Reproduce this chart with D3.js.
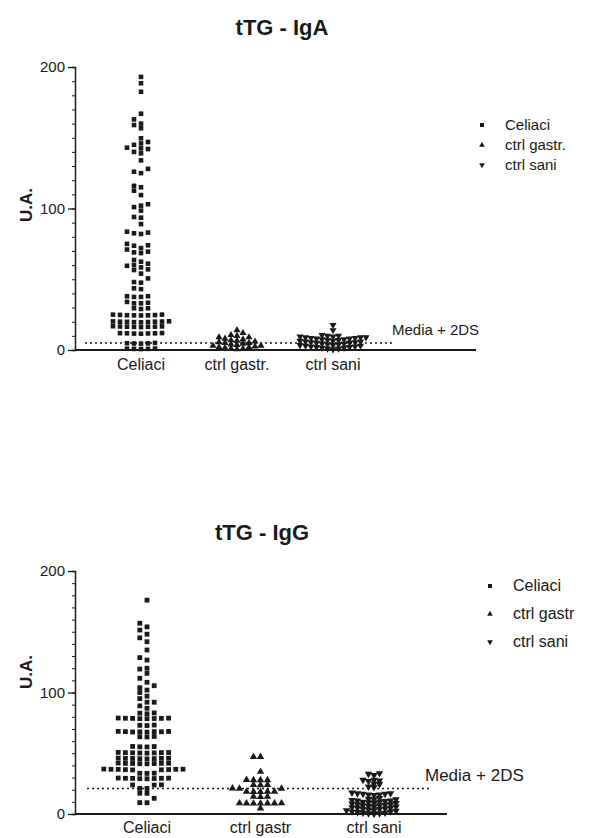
<!DOCTYPE html>
<html><head><meta charset="utf-8">
<script src="https://cdn.jsdelivr.net/npm/d3@7"></script>
<style>body{margin:0;background:#fff}svg{display:block;font-family:"Liberation Sans",Arial,sans-serif}</style>
</head><body><svg id="c" width="590" height="838"></svg>
<script>
// ---------- data ----------
const categoriesA = ["Celiaci", "ctrl gastr.", "ctrl sani"];
const categoriesG = ["Celiaci", "ctrl gastr", "ctrl sani"];
const legendA = ["Celiaci", "ctrl gastr.", "ctrl sani"];
const legendG = ["Celiaci", "ctrl gastr", "ctrl sani"];
const yTickLabels = [0, 100, 200];
const titles = ["tTG - IgA", "tTG - IgG"];
const yLabel = "U.A.";
const cutoffLabel = "Media + 2DS";
const cutoffA = 5;
const cutoffG = 21;

const igaCeliaci = [193, 188.5, 182.5, 167, 163, 160, 159, 156.7, 149.6, 147, 146, 145, 143, 142.5, 142, 140, 139, 134, 128, 126, 125, 116, 115, 112.6, 109.5, 103, 102, 101, 98.5, 94, 93.5, 89, 83.6, 83, 82.5, 82, 75, 74, 73.7, 72, 71, 69.5, 69, 68.5, 63.6, 62.4, 61, 60, 59.5, 58.4, 57, 56.5, 54, 50.6, 48, 47.6, 43.6, 43, 38, 38, 37.5, 37.5, 34, 33.4, 33, 33, 29.5, 29.5, 29,
  25, 25, 24.8, 24.7, 24.6, 24.5, 24.5, 24.4,
  20.3, 20.2, 20.1, 20, 20, 19.9, 19.8, 19.7, 19.6,
  16.8, 16.7, 16.6, 16.5, 16.5, 16.4, 16.3, 16.2,
  12, 11.9, 11.8, 11.8, 11.7, 11.6, 11.5,
  5, 4.8, 4.7, 4.6, 4.5,
  1, 0.9, 0.8, 0.8, 0.7];
const igaGastr = [14, 12, 10.6, 10, 9, 9, 8, 7.5, 7, 6.5, 6, 5.5, 5, 5, 4.5, 4, 3.5, 3, 3, 2.5, 2, 2, 1.5, 1, 1, 0.5];
const igaSani = [17.7, 14, 10.5, 10, 10, 9.5, 9.5, 9, 9, 9, 8.5, 8.5, 8, 8, 7.5, 7.5, 7, 7, 6.5, 6.5, 6, 6, 5.5, 5.5, 5, 5, 4.5, 4.5, 4, 4, 3.5, 3.5, 3, 3, 2.5, 2.5, 2, 2, 1.5, 1.5, 1, 1, 0.5];

const iggCeliaci = [176, 157, 154, 151.4, 148, 145, 141.8, 135, 128.7, 126.7, 120, 119.3, 115.8, 111.7, 108.4, 105.6, 104, 102, 100, 97, 95, 92, 92, 89, 87,
  83.2, 83, 82.5,
  79, 78.9, 78.8, 78.7, 78.7, 78.6, 78.5, 78.4,
  73.2, 73, 72.8,
  68, 67.9, 67.8, 67.8, 67.7, 67.6, 67.5, 67.4,
  63.8, 63.6, 63.4,
  55.6, 55.5, 55.3, 55.2,
  50.7, 50.6, 50.5, 50.5, 50.4, 50.3, 50.2, 50.1,
  46, 45.9, 45.8, 45.8, 45.7, 45.6, 45.5, 45.4,
  41.9, 41.8, 41.7, 41.7, 41.6, 41.5, 41.4, 41.3,
  37, 36.9, 36.8, 36.8, 36.7, 36.6, 36.5, 36.4, 36.3,
  33.6, 33.5, 33.4,
  29.6, 29.5, 29.4, 29.4, 29.3, 29.2, 29.1, 29,
  24, 23.9, 23.8,
  21.1, 21,
  17.1, 17,
  12.9,
  9.4, 9.3];
const iggGastr = [47, 47, 34.8, 28.1, 28, 28, 27.9, 24, 23.9, 23.8, 21.1, 21, 20.9, 18.5, 18.4, 18.4, 18.3, 18.2, 14.4, 14.3, 14.2, 8.9, 8.9, 8.8, 8.8, 8.8, 8.7, 8.7, 4.7];
const iggSani = [33.5, 33, 32, 28, 28, 27.5, 27, 25, 24.5, 22.5, 22, 17.5, 17, 17, 16.5, 16.5, 16, 16, 15.5,
  13, 12.5, 12, 12, 11.5, 11, 11, 10.5, 10, 10, 9.5, 9, 9, 8.5, 8, 8, 7.5, 7, 7, 6.5, 6, 6, 5.5, 5, 5, 4.5, 4, 4, 3.5, 3, 3, 2.5, 2, 2, 1.5, 1, 1, 0.5, 0.5, 0];

// ---------- drawing ----------
const svg = d3.select("#c");
const ink = "#1a1a1a";

function swarm(values, cx, y, step, h) {
  const pts = values.map(v => ({v, y: y(v)})).sort((a, b) => a.v - b.v);
  const placed = [];
  for (const p of pts) {
    for (let k = 0; k < 80; k++) {
      const off = k === 0 ? 0 : (k % 2 ? -Math.ceil(k / 2) : Math.ceil(k / 2)) * step;
      const x = cx + off;
      if (!placed.some(q => Math.abs(q.x - x) < step * 0.95 && Math.abs(q.y - p.y) < h)) { p.x = x; break; }
    }
    placed.push(p);
  }
  return placed;
}

function panel(cfg) {
  const g = svg.append("g");
  const y = d3.scaleLinear().domain([0, 200]).range([cfg.y0, cfg.y200]);
  const x = d3.scalePoint().domain(cfg.cats).range(cfg.xRange);

  // title
  g.append("text").attr("x", cfg.titleX).attr("y", cfg.titleY).attr("text-anchor", "middle")
    .attr("font-size", 22).attr("font-weight", "bold").attr("fill", ink).text(cfg.title);

  // y axis with minor ticks
  const minor = d3.range(0, 201, 10);
  const ax = d3.axisLeft(y).tickValues(minor).tickSize(3).tickFormat("");
  const ga = g.append("g").attr("transform", `translate(${cfg.axisX},0)`).call(ax);
  ga.select(".domain").attr("stroke", ink).attr("stroke-width", 1.5);
  ga.selectAll(".tick line").attr("stroke", ink).attr("stroke-width", 1);
  const axM = d3.axisLeft(y).tickValues(yTickLabels).tickSize(7).tickPadding(3).tickFormat(d3.format("d"));
  const gm = g.append("g").attr("transform", `translate(${cfg.axisX},0)`).call(axM);
  gm.select(".domain").remove();
  gm.selectAll(".tick line").attr("stroke", ink).attr("stroke-width", 1.3);
  gm.selectAll(".tick text").attr("font-size", 15).attr("fill", ink).attr("font-family", "Liberation Sans, Arial, sans-serif");

  // y label
  g.append("text").attr("transform", `translate(${cfg.yLabelX},${cfg.yLabelY}) rotate(-90)`)
    .attr("text-anchor", "middle").attr("font-size", 17).attr("font-weight", "bold").attr("fill", ink).text(yLabel);

  // baseline (x axis)
  g.append("line").attr("x1", cfg.axisX).attr("x2", cfg.baseEnd).attr("y1", y(0)).attr("y2", y(0))
    .attr("stroke", ink).attr("stroke-width", 1.8);

  // category labels
  g.selectAll(".cl").data(cfg.cats).join("text")
    .attr("x", d => x(d)).attr("y", cfg.catY).attr("text-anchor", "middle")
    .attr("font-size", 16).attr("fill", ink).text(d => d);

  // cutoff dotted line
  g.append("line").attr("x1", cfg.cutX1).attr("x2", cfg.cutX2).attr("y1", y(cfg.cutoff)).attr("y2", y(cfg.cutoff))
    .attr("stroke", ink).attr("stroke-width", 1.5).attr("stroke-dasharray", "2,3");
  g.append("text").attr("x", cfg.cutLabelX).attr("y", cfg.cutLabelY).attr("font-size", cfg.cutFont)
    .attr("fill", ink).text(cutoffLabel);

  // points
  const shapes = [
    d3.symbol().type(d3.symbolSquare).size(cfg.sq * cfg.sq)(),
    d3.symbol().type(d3.symbolTriangle).size(cfg.tri)(),
    d3.symbol().type(d3.symbolTriangle).size(cfg.tri)()
  ];
  const rot = [0, 0, 180];
  cfg.series.forEach((vals, i) => {
    const pts = swarm(vals, x(cfg.cats[i]), y, cfg.steps[i], cfg.hs[i]);
    g.append("g").selectAll("path").data(pts).join("path")
      .attr("d", shapes[i]).attr("fill", ink)
      .attr("transform", d => `translate(${d.x},${d.y}) rotate(${rot[i]})`);
  });

  // legend
  cfg.legend.forEach((t, i) => {
    const ly = cfg.legY + i * cfg.legDy;
    const sz = i === 0 ? 16 : 14;
    g.append("path").attr("d", d3.symbol().type(i === 0 ? d3.symbolSquare : d3.symbolTriangle).size(sz)())
      .attr("transform", `translate(${cfg.legX},${ly}) rotate(${rot[i]})`).attr("fill", ink);
    g.append("text").attr("x", cfg.legX + cfg.legGap).attr("y", ly + 5).attr("font-size", cfg.legFont)
      .attr("fill", ink).text(t);
  });
}

panel({
  title: titles[0], titleX: 282, titleY: 35,
  y0: 350, y200: 67, axisX: 75, baseEnd: 476,
  cats: categoriesA, xRange: [141, 333], catY: 370,
  yLabelX: 32, yLabelY: 205,
  cutoff: cutoffA, cutX1: 85, cutX2: 395, cutLabelX: 392, cutLabelY: 335, cutFont: 15,
  series: [igaCeliaci, igaGastr, igaSani], steps: [7, 6, 5.5], hs: [4.6, 3.6, 3.6], sq: 4.6, tri: 22,
  legend: legendA, legX: 482, legY: 125, legDy: 20, legGap: 23, legFont: 15
});
panel({
  title: titles[1], titleX: 262, titleY: 540,
  y0: 814, y200: 571, axisX: 75, baseEnd: 447,
  cats: categoriesG, xRange: [147, 374], catY: 833,
  yLabelX: 32, yLabelY: 672,
  cutoff: cutoffG, cutX1: 87, cutX2: 430, cutLabelX: 425, cutLabelY: 781, cutFont: 17,
  series: [iggCeliaci, iggGastr, iggSani], steps: [7.2, 7, 5.5], hs: [4.8, 4.5, 3.6], sq: 4.8, tri: 24,
  legend: legendG, legX: 490, legY: 586, legDy: 28, legGap: 23, legFont: 16
});
</script>
</body></html>
